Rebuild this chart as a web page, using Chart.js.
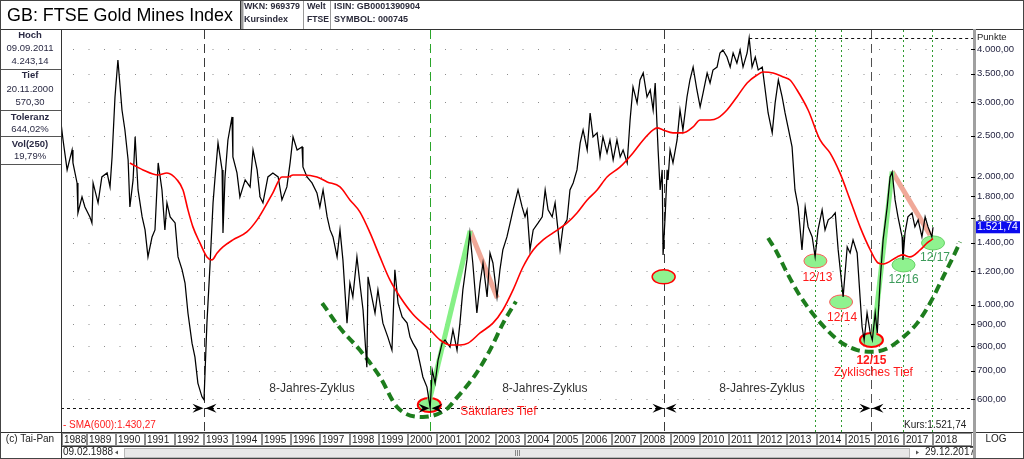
<!DOCTYPE html>
<html lang="de">
<head>
<meta charset="utf-8">
<title>GB: FTSE Gold Mines Index</title>
<script src="https://cdn.jsdelivr.net/npm/chart.js"></script>
<style>
  html, body { margin: 0; padding: 0; background: #fff; overflow: hidden; }
  canvas { display: block; }
</style>
</head>
<body>
<canvas id="goldChart" width="1024" height="459"></canvas>
<script>
// ---- price series (decimal year / index points) ----
const priceYears = [
    1988.11, 1988.18, 1988.32, 1988.49, 1988.52, 1988.66, 1988.69, 1988.83, 1988.93,
    1989.10, 1989.17, 1989.21, 1989.38, 1989.51, 1989.69, 1989.79, 1989.86, 1989.96,
    1990.06, 1990.20, 1990.30, 1990.41, 1990.47, 1990.58, 1990.65, 1990.75, 1990.89, 1990.99,
    1991.09, 1991.23, 1991.33, 1991.44, 1991.57, 1991.67, 1991.74, 1991.85,
    1992.02, 1992.12, 1992.26, 1992.36, 1992.46, 1992.60, 1992.70, 1992.80, 1992.94,
    1993.01, 1993.11, 1993.22, 1993.32, 1993.39, 1993.49, 1993.63, 1993.66, 1993.73, 1993.83, 1993.97,
    1994.00, 1994.14, 1994.24, 1994.42, 1994.59, 1994.69, 1994.83, 1994.93,
    1995.03, 1995.20, 1995.37, 1995.55, 1995.68, 1995.85, 1995.96,
    1996.06, 1996.20, 1996.37, 1996.40, 1996.54, 1996.71, 1996.88, 1996.98,
    1997.09, 1997.23, 1997.33, 1997.43, 1997.57, 1997.67, 1997.77, 1997.91,
    1998.01, 1998.11, 1998.25, 1998.35, 1998.46, 1998.59, 1998.63, 1998.76, 1998.87, 1998.97,
    1999.14, 1999.31, 1999.45, 1999.55, 1999.66, 1999.80, 1999.97,
    2000.07, 2000.17, 2000.31, 2000.41, 2000.51, 2000.65, 2000.76, 2000.83, 2000.93,
    2001.03, 2001.17, 2001.27, 2001.44, 2001.54, 2001.68, 2001.78, 2001.88,
    2002.02, 2002.12, 2002.22, 2002.36, 2002.47, 2002.57, 2002.71, 2002.81, 2002.91,
    2003.05, 2003.15, 2003.25, 2003.39, 2003.50, 2003.60, 2003.77, 2003.91,
    2004.01, 2004.08, 2004.18, 2004.29, 2004.46, 2004.60, 2004.70, 2004.80, 2004.94,
    2005.04, 2005.14, 2005.21, 2005.31, 2005.45, 2005.55, 2005.66, 2005.79, 2005.90,
    2006.00, 2006.14, 2006.24, 2006.34, 2006.48, 2006.58, 2006.68, 2006.82, 2006.92,
    2007.03, 2007.16, 2007.27, 2007.37, 2007.51, 2007.61, 2007.71, 2007.85, 2007.95,
    2008.06, 2008.19, 2008.30, 2008.40, 2008.47, 2008.54, 2008.57, 2008.64, 2008.71, 2008.74, 2008.81, 2008.88, 2008.91, 2008.98,
    2009.08, 2009.22, 2009.32, 2009.42, 2009.56, 2009.66, 2009.77, 2009.90,
    2010.01, 2010.11, 2010.25, 2010.35, 2010.45, 2010.59, 2010.69, 2010.79, 2010.93,
    2011.04, 2011.14, 2011.27, 2011.38, 2011.48, 2011.62, 2011.69, 2011.79, 2011.90,
    2012.00, 2012.14, 2012.24, 2012.34, 2012.48, 2012.58, 2012.69, 2012.82, 2012.92,
    2013.02, 2013.16, 2013.26, 2013.37, 2013.50, 2013.61, 2013.71, 2013.85, 2013.95,
    2014.05, 2014.19, 2014.29, 2014.40, 2014.53, 2014.64, 2014.74, 2014.91,
    2015.05, 2015.15, 2015.25, 2015.39, 2015.49, 2015.56, 2015.63, 2015.73, 2015.84, 2015.91,
    2016.01, 2016.08, 2016.18, 2016.28, 2016.42, 2016.52, 2016.59, 2016.69, 2016.79, 2016.93, 2016.96,
    2017.03, 2017.13, 2017.27, 2017.37, 2017.48, 2017.61, 2017.72, 2017.82, 2017.95, 2017.99
];
const priceValues = [
    2679, 2443, 2077, 2314, 2157, 1935, 1645, 1794, 1699,
    1610, 1558, 1935, 1737, 1999, 2043, 1894, 2228, 3084,
    3768, 2874, 2579, 2192, 1699, 1967, 2484, 1863, 1610, 1500,
    1296, 1444, 1500, 2157, 1863, 1500, 1737, 1610,
    1558, 1296, 1208, 1125, 956, 812, 753, 654, 607,
    597, 905, 1254, 1737, 1999, 2404, 2077, 1476, 1999, 2443, 2768,
    2228, 2043, 1794, 1967, 1894, 2314, 2077, 1794,
    1737, 1999, 2043, 1999, 1765, 1894, 2157,
    2484, 2314, 2353, 2111, 1999, 1935, 1834, 1699,
    1863, 1610, 1500, 1444, 1296, 1500, 1275, 905,
    1125, 1043, 1296, 1125, 972, 713, 1163, 1043, 956, 1084,
    905, 839, 782, 1208, 1009, 936, 905,
    839, 812, 782, 729, 676, 640, 572, 702, 654,
    741, 812, 826, 795, 872, 782, 905, 1084,
    1275, 1476, 1254, 956, 1125, 1254, 1043, 1324, 1254,
    1043, 1208, 1346, 1444, 1558, 1672, 1863, 1699,
    1610, 1672, 1346, 1500, 1558, 1610, 1863, 1672, 1610,
    1737, 1500, 1346, 1525, 1584, 1863, 1935, 2077, 2404,
    2579, 2314, 2828, 2484, 2538, 2228, 2484, 2277, 2443,
    2192, 2443, 2228, 2314, 2157, 2723, 3256, 2986, 3381,
    3512, 3084, 3203, 2874, 3327, 2579, 2314, 1863, 2077, 1310, 1610, 2077, 1967, 2314,
    2157, 2443, 2874, 2579, 3084, 3381, 3627, 3203,
    2922, 3151, 3512, 3327, 3569, 3627, 3915, 3978, 3830,
    3627, 3915, 3706, 3978, 3627, 3915, 4243, 3627, 3830,
    3569, 3627, 3203, 2828, 2538, 2986, 3381, 3084, 2828,
    2622, 2353, 1863, 1699, 1346, 1699, 1525, 1444, 1296,
    1500, 1672, 1500, 1584, 1610, 1645, 1346, 1043,
    1368, 1324, 1421, 1324, 1043, 886, 826, 956, 858, 826,
    956, 858, 1144, 1421, 1699, 1999, 2054, 1765, 1610, 1444, 1275,
    1476, 1610, 1645, 1525, 1584, 1444, 1610, 1525, 1444, 1521.74
];

// ---- SMA(600) ----
const smaYears = [
    1990.47, 1990.92, 1991.43, 1991.74, 1992.09, 1992.29, 1992.46, 1992.63, 1992.87,
    1993.11, 1993.28, 1993.46, 1993.66, 1994.00, 1994.48, 1994.83, 1995.10, 1995.37, 1995.68, 1995.89,
    1996.06, 1996.40, 1996.88, 1997.23, 1997.67, 1998.01, 1998.35, 1998.70, 1999.04, 1999.38, 1999.73,
    2000.17, 2000.76, 2001.10, 2001.44, 2001.78, 2002.06, 2002.47, 2002.91, 2003.25, 2003.60, 2003.94,
    2004.29, 2004.63, 2004.97, 2005.45, 2005.79, 2006.14, 2006.48, 2006.82, 2007.27, 2007.71,
    2008.06, 2008.40, 2008.54, 2008.74, 2009.08, 2009.42, 2009.77, 2010.01, 2010.35, 2010.62, 2010.93,
    2011.27, 2011.62, 2011.96, 2012.17, 2012.51, 2012.86, 2013.09, 2013.33, 2013.71,
    2014.12, 2014.46, 2014.80, 2015.15, 2015.49, 2015.84, 2016.11, 2016.28, 2016.76, 2016.96,
    2017.20, 2017.55, 2017.79, 2017.99
];
const smaValues = [
    2157, 2077, 2021, 2043, 1967, 1863, 1672, 1525, 1398,
    1296, 1275, 1324, 1368, 1421, 1484, 1584, 1699, 1834, 1999, 1999,
    2021, 2021, 1999, 1946, 1894, 1765, 1654, 1476, 1296, 1144, 1043,
    950, 872, 826, 804, 804, 812, 858, 905, 972, 1084, 1227,
    1346, 1421, 1476, 1558, 1645, 1765, 1863, 1999, 2111, 2277,
    2443, 2579, 2608, 2579, 2538, 2538, 2622, 2723, 2723, 2754, 2874,
    3084, 3327, 3474, 3531, 3512, 3436, 3381, 3203, 2874,
    2443, 2277, 2043, 1765, 1525, 1346, 1254, 1247, 1296, 1310,
    1296, 1346, 1398, 1430.27
];

// ---- drawn-in analysis: cycle bowls, trend legs, lows ----
const bowl2000Years = [1997.06, 1997.67, 1998.35, 1999.04, 1999.62, 2000.51, 2001.34, 2001.61, 2002.30, 2002.81, 2003.26, 2003.70];
const bowl2000Values = [1009, 881, 782, 676, 575, 544, 569, 597, 683, 782, 905, 1018];
const bowl2015Years = [2012.34, 2012.65, 2012.99, 2013.37, 2013.85, 2014.36, 2014.81, 2015.39, 2015.94, 2016.42, 2016.97, 2017.45, 2017.89, 2018.34, 2018.68, 2018.92];
const bowl2015Values = [1436, 1324, 1188, 1066, 956, 872, 818, 782, 775, 789, 839, 905, 1009, 1163, 1296, 1406];

const riseYears = [[2000.69, 2002.13], [2015.94, 2016.59]];
const riseValues = [[578, 1492], [826, 2060]];
const fallYears = [[2002.13, 2003.06], [2016.59, 2017.89]];
const fallValues = [[1492, 1037], [2060, 1460]];

const lowYears = [2000.73, 2008.76, 2013.96, 2014.84, 2015.88, 2016.98, 2017.99];
const lowValues = [581, 1163, 1268, 1015, 826, 1241, 1398];
const lowLabels = ['', '', '12/13', '12/14', '12/15', '12/16', '12/17'];

const cycleLows = [1993.01, 2000.76, 2008.76, 2015.86];
const cycleLabelYears = [1996.71, 2004.69, 2012.13];
const cycleLabelValue = 633;
const decemberMarks = [2013.93, 2014.85, 2016.97, 2017.97];

const hochYear = 2011.69, hochValue = 4243.14, tiefValue = 570.30;
const lastPrice = 1521.74, lastSma = 1430.27;

// ---- axes ----
const yTicks = [600, 700, 800, 900, 1000, 1200, 1400, 1600, 1800, 2000, 2500, 3000, 3500, 4000];
const yearLabels = ['1988', '1989', '1990', '1991', '1992', '1993', '1994', '1995', '1996', '1997',
    '1998', '1999', '2000', '2001', '2002', '2003', '2004', '2005', '2006', '2007', '2008', '2009',
    '2010', '2011', '2012', '2013', '2014', '2015', '2016', '2017', '2018'];
const xMin = 1988.11, xMax = 2019.36;

const FONT = '"Liberation Sans", Arial, Helvetica, sans-serif';

const fmtDE = (v) => {
    const [int, dec] = v.toFixed(2).split('.');
    return int.replace(/\B(?=(\d{3})+(?!\d))/g, '.') + ',' + dec;
};
const toPoints = (xs, ys) => xs.map((x, i) => ({ x, y: ys[i] }));

function text(c, str, x, y, font, color, align = 'left', maxWidth) {
    c.font = font;
    c.fillStyle = color;
    c.textAlign = align;
    c.textBaseline = 'middle';
    if (maxWidth) c.fillText(str, x, y, maxWidth);
    else c.fillText(str, x, y);
}
function hLine(c, x1, x2, y) { c.beginPath(); c.moveTo(x1, y); c.lineTo(x2, y); c.stroke(); }
function vLine(c, x, y1, y2) { c.beginPath(); c.moveTo(x, y1); c.lineTo(x, y2); c.stroke(); }

function arrowPair(c, px, py) {
    c.fillStyle = '#000';
    c.beginPath();
    c.moveTo(px - 1, py); c.lineTo(px - 12, py - 4.5); c.lineTo(px - 8, py); c.lineTo(px - 12, py + 4.5);
    c.closePath(); c.fill();
    c.beginPath();
    c.moveTo(px + 1, py); c.lineTo(px + 12, py - 4.5); c.lineTo(px + 8, py); c.lineTo(px + 12, py + 4.5);
    c.closePath(); c.fill();
}

const overlay = {
    id: 'overlay',
    beforeDraw(chart) {
        const c = chart.ctx;
        c.save();
        c.fillStyle = '#fff';
        c.fillRect(0, 0, chart.width, chart.height);
        c.restore();
    },
    beforeDatasetsDraw(chart) {
        const { ctx: c, chartArea: a, scales: { x, y } } = chart;
        const px = (v) => x.getPixelForValue(v);
        const py = (v) => y.getPixelForValue(v);
        c.save();

        // dotted grid rows
        c.strokeStyle = '#8c8c8c';
        c.lineWidth = 1;
        c.setLineDash([1, 14.5]);
        yTicks.forEach(v => hLine(c, a.left + 12, a.right, Math.round(py(v)) + 0.5));

        // december marks
        c.strokeStyle = '#2e9a2e';
        c.setLineDash([2, 3]);
        decemberMarks.forEach(t => vLine(c, Math.round(px(t)) + 0.5, a.top, a.bottom));

        // cycle lows
        const cycleColors = ['#3a3a3a', '#2aa52a', '#3a3a3a', '#505050'];
        c.setLineDash([9, 5]);
        cycleLows.forEach((t, i) => {
            c.strokeStyle = cycleColors[i];
            vLine(c, Math.round(px(t)) + 0.5, a.top, a.bottom);
        });

        // hoch / tief lines
        c.strokeStyle = '#111';
        c.setLineDash([3, 3]);
        hLine(c, a.left, a.right, Math.round(py(tiefValue)) + 0.5);
        hLine(c, px(hochYear), a.right, Math.round(py(hochValue)) + 0.5);

        // marked lows
        const edges = ['#ff0000', '#ff0000', '#ff5a5a', '#ff5a5a', '#ff0000', '#66d066', '#66d066'];
        const widths = [2, 1.5, 1, 1, 2, 1, 1];
        c.setLineDash([]);
        lowYears.forEach((t, i) => {
            c.beginPath();
            c.ellipse(px(t), py(lowValues[i]), 11.5, 7, 0, 0, Math.PI * 2);
            c.fillStyle = '#8ff28f';
            c.fill();
            c.lineWidth = widths[i];
            c.strokeStyle = edges[i];
            c.stroke();
        });
        c.restore();
    },
    afterDatasetsDraw(chart) {
        const { ctx: c, chartArea: a, scales: { x, y } } = chart;
        const px = (v) => x.getPixelForValue(v);
        const py = (v) => y.getPixelForValue(v);
        c.save();

        cycleLows.forEach(t => arrowPair(c, Math.round(px(t)) + 0.5, py(tiefValue)));
        cycleLabelYears.forEach(t => text(c, '8-Jahres-Zyklus', px(t), py(cycleLabelValue), '12px ' + FONT, '#333', 'center'));

        const red = '#ff1a1a', green = '#3d9b5b';
        text(c, 'Säkulares Tief', px(lowYears[0]) + 31, py(lowValues[0]) + 7, '12px ' + FONT, red);
        const offs = [0, 0, 17, 16, 21, 15, 15];
        const dx = [0, 0, 2, 1, 0, 0, 2];
        lowLabels.forEach((lab, i) => {
            if (!lab) return;
            const font = (i === 4 ? 'bold ' : '') + '12px ' + FONT;
            text(c, lab, px(lowYears[i]) + dx[i], py(lowValues[i]) + offs[i], font, i >= 5 ? green : red, 'center');
        });
        text(c, 'Zyklisches Tief', px(lowYears[4]) + 2, py(lowValues[4]) + 33, '12px ' + FONT, red, 'center');

        text(c, '- SMA(600):' + fmtDE(lastSma), a.left + 2, a.bottom - 7, '10px ' + FONT, '#ff2020');
        text(c, 'Kurs:' + fmtDE(lastPrice), 904, a.bottom - 7, '10px ' + FONT, '#222');
        c.restore();
    },
    afterDraw(chart) {
        const { ctx: c, chartArea: a, scales: { x, y } } = chart;
        const W = chart.width, H = chart.height;
        const px = (v) => x.getPixelForValue(v);
        const py = (v) => y.getPixelForValue(v);
        c.save();
        c.setLineDash([]);
        c.lineWidth = 1;

        // header
        text(c, 'GB: FTSE Gold Mines Index', 7, 15.5, '19px ' + FONT, '#000', 'left', 226);
        const hc = '#2b2b3b', hf = 'bold 9px ' + FONT;
        text(c, 'WKN: 969379', 244, 6.5, hf, hc, 'left', 56);
        text(c, 'Kursindex', 244, 20, hf, hc, 'left', 56);
        text(c, 'Welt', 307, 6.5, hf, hc, 'left', 22);
        text(c, 'FTSE', 307, 20, hf, hc, 'left', 22);
        text(c, 'ISIN: GB0001390904', 334, 6.5, hf, hc, 'left', 86);
        text(c, 'SYMBOL: 000745', 334, 20, hf, hc, 'left', 74);
        c.strokeStyle = '#9a9a9a';
        c.lineWidth = 3;
        vLine(c, 242, 0, 29);
        c.lineWidth = 1;
        vLine(c, 303.5, 0, 29);
        vLine(c, 330.5, 0, 29);
        c.strokeStyle = '#333';
        vLine(c, 240.5, 0, 29);
        hLine(c, 0, W, 29.5);

        // left panel
        const lf = '9.5px ' + FONT, lb = 'bold 9.5px ' + FONT, lc = '#2a2a44';
        text(c, 'Hoch', 30, 35, lb, lc, 'center');
        text(c, '09.09.2011', 30, 48, lf, lc, 'center');
        text(c, fmtDE(hochValue), 30, 61, lf, lc, 'center');
        text(c, 'Tief', 30, 75, lb, lc, 'center');
        text(c, '20.11.2000', 30, 89, lf, lc, 'center');
        text(c, fmtDE(tiefValue), 30, 102, lf, lc, 'center');
        text(c, 'Toleranz', 30, 117, lb, lc, 'center');
        text(c, '644,02%', 30, 129, lf, lc, 'center');
        text(c, 'Vol(250)', 30, 144, lb, lc, 'center');
        text(c, '19,79%', 30, 156, lf, lc, 'center');
        c.strokeStyle = '#555';
        [69.5, 110.5, 136.5, 164.5].forEach(yy => hLine(c, 0, 61, yy));
        c.strokeStyle = '#333';
        vLine(c, 61.5, 29, H);

        // date row
        hLine(c, 0, W, 432.5);
        c.strokeStyle = '#8c8c8c';
        yearLabels.forEach((lab, i) => {
            const yr = Number(lab);
            const l = i === 0 ? a.left + 1 : Math.round(px(yr));
            const r = i === yearLabels.length - 1 ? a.right - 1 : Math.round(px(yr + 1));
            c.strokeRect(l + 0.5, 433.5, r - l - 1, 12);
            text(c, lab, l + 2, 440, '10px ' + FONT, '#222', 'left', 25);
        });
        text(c, '(c) Tai-Pan', 30, 439, '10px ' + FONT, '#222', 'center');
        text(c, 'LOG', 996, 439, '10px ' + FONT, '#222', 'center');

        // scroll row
        c.strokeStyle = '#333';
        hLine(c, 61, a.right, 446.5);
        text(c, '09.02.1988', 63, 452.5, '10px ' + FONT, '#222');
        text(c, '29.12.2017', 925, 452.5, '10px ' + FONT, '#222');
        c.fillStyle = '#e8e8e8';
        c.fillRect(124, 448, 785, 9);
        c.strokeStyle = '#b8b8b8';
        c.strokeRect(124.5, 448.5, 785, 9);
        c.strokeStyle = '#888';
        [515.5, 517.5, 519.5].forEach(gx => vLine(c, gx, 450, 456));
        c.fillStyle = '#555';
        c.beginPath(); c.moveTo(115, 452.5); c.lineTo(118, 450.5); c.lineTo(118, 454.5); c.closePath(); c.fill();
        c.beginPath(); c.moveTo(919, 452.5); c.lineTo(916, 450.5); c.lineTo(916, 454.5); c.closePath(); c.fill();

        // right axis line and tick marks
        c.strokeStyle = '#a0a0a0';
        c.lineWidth = 3;
        vLine(c, a.right + 1.5, 29, H);
        c.lineWidth = 1;
        c.strokeStyle = '#000';
        yTicks.forEach(v => hLine(c, a.right - 2, a.right + 2, Math.round(py(v)) + 0.5));
        text(c, 'Punkte', 977, 37, '9.5px ' + FONT, '#222');

        // last price tag
        const ty = py(lastPrice);
        c.fillStyle = '#0a0aee';
        c.fillRect(976, ty - 6, 44, 12);
        text(c, fmtDE(lastPrice), 977, ty, '10.5px ' + FONT, '#fff', 'left', 42);

        // frame
        c.strokeStyle = '#444';
        c.strokeRect(0.5, 0.5, W - 1, H - 1);
        c.restore();
    }
};

const ctx = document.getElementById('goldChart').getContext('2d');

const goldChart = new Chart(ctx, {
    type: 'line',
    data: {
        datasets: [
            {
                label: 'SMA(600)',
                data: toPoints(smaYears, smaValues),
                borderColor: '#ff0000',
                borderWidth: 1.6,
                pointRadius: 0,
                cubicInterpolationMode: 'monotone',
                order: 0
            },
            {
                label: 'Kurs',
                data: toPoints(priceYears, priceValues),
                borderColor: '#000',
                borderWidth: 1.25,
                pointRadius: 0,
                order: 1
            },
            ...riseYears.map((xs, i) => ({
                data: toPoints(xs, riseValues[i]),
                borderColor: '#86f086',
                borderWidth: 5,
                pointRadius: 0,
                order: 3
            })),
            ...fallYears.map((xs, i) => ({
                data: toPoints(xs, fallValues[i]),
                borderColor: '#f0a898',
                borderWidth: 5,
                pointRadius: 0,
                order: 3
            })),
            ...[[bowl2000Years, bowl2000Values], [bowl2015Years, bowl2015Values]].map(([xs, ys]) => ({
                data: toPoints(xs, ys),
                borderColor: '#1d7d1d',
                borderWidth: 4,
                borderDash: [9, 5],
                pointRadius: 0,
                cubicInterpolationMode: 'monotone',
                order: 4
            }))
        ]
    },
    options: {
        responsive: false,
        animation: false,
        events: [],
        layout: { padding: { left: 61, top: 30, right: 0, bottom: 27 } },
        scales: {
            x: { type: 'linear', min: xMin, max: xMax, display: false },
            y: {
                type: 'logarithmic',
                position: 'right',
                min: 501.6,
                max: 4434,
                afterBuildTicks: (scale) => { scale.ticks = yTicks.map(v => ({ value: v })); },
                afterFit: (scale) => { scale.width = 51; },
                grid: { display: false, drawTicks: false },
                border: { display: false },
                ticks: {
                    autoSkip: false,
                    padding: 4,
                    color: '#1e1e3c',
                    font: { size: 9.5, family: FONT },
                    callback: (v) => fmtDE(v)
                }
            }
        },
        plugins: { legend: { display: false }, tooltip: { enabled: false } }
    },
    plugins: [overlay]
});
</script>
</body>
</html>
